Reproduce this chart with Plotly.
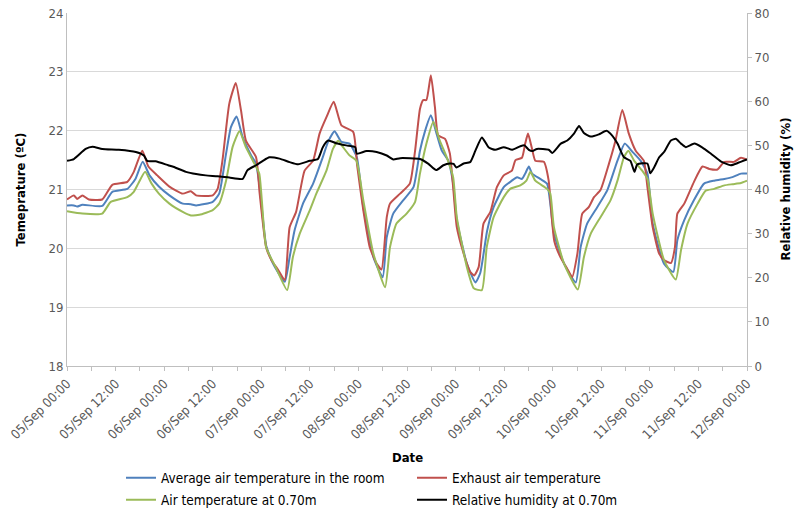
import datetime as dt
import plotly.graph_objects as go

# ---- data (hours since 05/Sep 00:00) ----
red_h = [0, 1.7, 2.5, 3.8, 5.4, 8.7, 11.2, 14.9, 16.5, 18.6, 20.1, 22.3,
         25.3, 28.6, 30.6, 31.9, 36, 37.2, 38.4, 40.1, 41.7, 43, 44.2, 46.7,
         47.6, 49.2, 50.5, 52.1, 53.8, 55, 56.6, 58.7, 60.8, 62.4, 64.1, 65.9, 67.8, 70.7,
         71.7, 73.2, 74.8, 76.5, 77.7, 79, 79.8, 82.3, 84.7, 86, 87.2, 88, 88.8, 89.9, 90.9,
         91.7, 93.4, 94.6, 95.4, 96.3, 98, 99.6, 100.6, 101.7, 102.9, 104.6, 106.2, 107.9,
         109.9, 110.8, 112.4, 113.2, 113.9, 114.9, 115.7, 117.8, 119, 119.8, 120.4, 121.9,
         123.6, 124.8, 126.1, 127.3, 128.9, 130.2, 131.8, 133.9, 135.5, 137.2, 138.8, 140.5,
         142.5, 143.4, 144.7, 146.3, 147.5, 149.2, 150.2, 150.8, 152.5, 154.9, 157, 158.7,
         160.7, 162.4, 164.8, 166.5, 168]
red_v = [20.83, 20.9, 20.84, 20.9, 20.83, 20.83, 21.08, 21.13, 21.3, 21.66, 21.39, 21.24,
         21.05, 20.93, 20.97, 20.9, 20.9, 21.01, 21.49, 22.46, 22.81, 22.34, 21.83, 21.55,
         20.93, 20.02, 19.8, 19.64, 19.46, 20.36, 20.62, 21.32, 21.49, 21.95, 22.23, 22.49, 22.09, 21.98,
         21.4, 20.65, 20.02, 19.74, 19.64, 20.53, 20.76, 20.93, 21.1, 21.66, 22.37, 22.52, 22.52, 22.94, 22.4,
         21.92, 21.86, 21.61, 21.04, 20.36, 19.91, 19.6, 19.54, 19.68, 20.42, 20.62, 21.04, 21.24,
         21.32, 21.5, 21.54, 21.78, 21.95, 21.69, 21.49, 21.47, 21.15, 20.5, 20.12, 19.85,
         19.65, 19.51, 19.91, 20.59, 20.7, 20.87, 20.99, 21.44, 21.83, 22.35, 21.95, 21.66,
         21.49, 21.04, 20.36, 19.91, 19.8, 19.75, 20.02, 20.59, 20.76, 21.13, 21.39, 21.35,
         21.34, 21.47, 21.47, 21.54, 21.51]

blue_h = [0, 1.7, 2.5, 3.8, 8.7, 11.2, 14.9, 16.9, 18.7, 20.4, 22.7, 25.3, 28.6, 30.6, 31.9,
          36, 37.6, 39.3, 40.5, 41.9, 43.4, 45.5, 46.7, 47.6, 49.2, 50.9, 53.8, 55, 56.2,
          58.3, 60.8, 63.2, 64.5, 66.1, 67.8, 69.8, 71.6, 73.2, 75.7, 78, 79, 80.6, 83.1,
          85.6, 87.2, 88.4, 89.9, 91.3, 92.6, 94.2, 95.4, 96.3, 98.8, 100.9, 102.1, 103.8,
          105.4, 107.9, 109.9, 111.2, 112.4, 113.2, 114.1, 114.9, 116.9, 118.6, 120.3, 122.8,
          125.7, 126.9, 128.5, 131, 133.5, 136, 137.8, 139.7, 141.7, 143.4, 144.7, 147.5,
          149.8, 150.8, 152.5, 154.9, 157.4, 159.9, 162.4, 164.4, 166.5, 168]
blue_v = [20.73, 20.73, 20.71, 20.74, 20.72, 20.96, 21.01, 21.18, 21.47, 21.24, 21.05, 20.9, 20.76, 20.75, 20.73,
          20.79, 20.93, 21.61, 22.06, 22.24, 21.89, 21.58, 21.44, 21.04, 20.05, 19.74, 19.43, 19.85, 20.3,
          20.76, 21.1, 21.55, 21.81, 21.99, 21.81, 21.78, 21.55, 20.7, 19.85, 19.51, 20.19, 20.59, 20.82,
          21.04, 21.66, 21.98, 22.26, 21.95, 21.66, 21.49, 21.1, 20.48, 19.74, 19.42, 19.58, 20.3,
          20.7, 21.04, 21.15, 21.21, 21.18, 21.27, 21.39, 21.27, 21.18, 21.1, 20.25, 19.74,
          19.42, 20.02, 20.42, 20.7, 20.99, 21.49, 21.78, 21.64, 21.49, 21.27, 20.42, 19.74,
          19.6, 20.14, 20.48, 20.82, 21.1, 21.15, 21.18, 21.21, 21.27, 21.27]

green_h = [0, 3.8, 8.7, 10.8, 14.9, 16.5, 17.6, 19.3, 20.9, 22.7, 25.3, 28.6, 30.6, 32.7, 36,
           37.6, 39.3, 40.9, 42.6, 44.2, 46.3, 47.5, 49.2, 51.7, 54.4, 55.8, 57.5, 60, 61.6,
           64.1, 65.7, 67, 68.2, 69.8, 71.5, 73.2, 75.7, 78.6, 79.8, 81.4, 83.9, 86, 87.2,
           88.8, 90.5, 92.1, 93.8, 95.4, 96.3, 98.8, 100.5, 102.5, 103.7, 105.4, 107.9, 109.5,
           112, 113.5, 114.5, 115.7, 118.6, 119.4, 120.3, 122.8, 126.2, 127.7, 129.4, 131.8,
           134.3, 136, 137.6, 138.7, 140.1, 142.1, 143.4, 144.7, 147.5, 150.4, 151.7, 153.3,
           155.8, 157.8, 159.9, 162.4, 164.4, 166.5, 168]
green_v = [20.63, 20.59, 20.59, 20.79, 20.87, 20.96, 21.1, 21.3, 21.1, 20.93, 20.76, 20.62, 20.56, 20.57, 20.65,
           20.76, 21.15, 21.72, 21.99, 21.72, 21.44, 21.27, 20.02, 19.66, 19.29, 19.85, 20.25, 20.65, 20.93,
           21.32, 21.69, 21.83, 21.72, 21.58, 21.49, 20.82, 19.91, 19.34, 20.02, 20.42, 20.59, 20.79, 21.27,
           21.78, 22.15, 21.83, 21.55, 21.21, 20.53, 19.68, 19.32, 19.29, 20.02, 20.53, 20.87, 21.01,
           21.07, 21.15, 21.3, 21.15, 21.01, 20.93, 20.36, 19.74, 19.3, 19.85, 20.25, 20.53,
           20.82, 21.15, 21.55, 21.66, 21.49, 21.32, 21.18, 20.59, 19.8, 19.47, 19.97, 20.42,
           20.76, 20.98, 21.01, 21.07, 21.09, 21.11, 21.15]

rh_h = [0, 1.7, 4.6, 6.3, 8.7, 12.8, 17, 19, 19.8, 21.9, 25, 26.1, 29.4, 31.9, 34.3, 37.2,
        40.1, 43.4, 44.6, 46.7, 48.4, 50, 52.5, 55, 57.1, 60, 62, 63.2, 64.5, 66.5, 69,
        71.2, 71.6, 74, 76.5, 79, 80.6, 82.3, 87.2, 89.3, 91.2, 93, 94.6, 95.5, 96.2, 98,
        99.6, 100.9, 102.5, 104.2, 105.8, 107.9, 110, 112, 113, 114.1, 114.9, 116.1, 119,
        119.9, 122, 123.6, 125.2, 126.5, 127.7, 129.4, 131.4, 133.3, 134.7, 136, 137.6,
        139.2, 140.2, 140.9, 143.4, 144.1, 145.1, 146.3, 147.5, 149.2, 150.4, 151.7, 152.9,
        155, 157, 159.1, 161.5, 164, 165.7, 168]
rh_v = [46.5, 46.9, 49.2, 49.7, 49.2, 49.0, 48.5, 47.7, 46.5, 46.4, 45.5, 45.2, 44.0, 43.5, 43.2, 43.0,
        42.7, 42.4, 44.4, 45.5, 46.5, 47.3, 47.0, 46.2, 45.7, 46.5, 46.9, 49.6, 51.1, 50.5, 50.0,
        49.6, 48.1, 48.7, 48.5, 47.7, 46.8, 47.1, 46.9, 45.8, 44.4, 45.5, 45.9, 45.8, 45.0, 45.9,
        46.2, 48.8, 51.8, 49.5, 49.0, 49.6, 49.0, 49.8, 50.0, 49.0, 48.7, 49.2, 49.0,
        48.3, 50.4, 51.1, 52.6, 54.4, 52.8, 52.0, 52.5, 53.3, 52.2, 50.4, 47.3,
        46.5, 44.0, 45.7, 45.9, 43.7, 45.1, 47.3, 48.5, 51.1, 51.5, 50.4, 49.6,
        50.4, 49.5, 48.1, 46.4, 45.5, 46.0, 46.8]

base = dt.datetime(2014, 9, 5)
def to_dt(hours):
    return [base + dt.timedelta(hours=h) for h in hours]

FONT = "DejaVu Sans Condensed, Open Sans, sans-serif"
TXT = "#595959"
W, H = 797, 513
L, R, T, B = 67, 50, 13, 147
PW = W - L - R

def line(color):
    return dict(color=color, width=2, shape="spline", smoothing=0.5)

fig = go.Figure()
fig.add_trace(go.Scatter(x=to_dt(blue_h), y=blue_v, mode="lines", name="Average air temperature in the room",
                         line=line("#4F81BD"), legend="legend"))
fig.add_trace(go.Scatter(x=to_dt(red_h), y=red_v, mode="lines", name="Exhaust air temperature",
                         line=line("#C0504D"), legend="legend"))
fig.add_trace(go.Scatter(x=to_dt(green_h), y=green_v, mode="lines", name="Air temperature at 0.70m",
                         line=line("#9BBB59"), legend="legend2"))
fig.add_trace(go.Scatter(x=to_dt(rh_h), y=rh_v, mode="lines", name="Relative humidity at 0.70m",
                         line=line("#000000"), yaxis="y2", legend="legend2"))

legend_common = dict(orientation="h", xref="paper", yref="container", xanchor="left", yanchor="middle",
                     entrywidth=246, entrywidthmode="pixels", bgcolor="rgba(0,0,0,0)",
                     font=dict(family=FONT, size=13.5, color="#000000"), itemwidth=30,
                     tracegroupgap=0)
lx = (121 - L) / PW
fig.update_layout(
    width=W, height=H,
    margin=dict(l=L, r=R, t=T, b=B, autoexpand=False),
    paper_bgcolor="white", plot_bgcolor="white",
    font=dict(family=FONT, size=13, color=TXT),
    xaxis=dict(
        range=[base, base + dt.timedelta(hours=168)],
        type="date", dtick=12 * 3600 * 1000, tick0=base, tickformat="%d/%b %H:%M",
        tickangle=-45, ticks="outside", ticklen=4, tickcolor="#bfbfbf",
        minor=dict(dtick=6 * 3600 * 1000, ticks="outside", ticklen=4, tickcolor="#bfbfbf", showgrid=False),
        showgrid=False, showline=True, linecolor="#bfbfbf", linewidth=1,
        tickfont=dict(family=FONT, size=13, color=TXT),
    ),
    yaxis=dict(
        range=[18, 24], dtick=1, showgrid=True, gridcolor="#d9d9d9", gridwidth=1,
        showline=True, linecolor="#bfbfbf", zeroline=False, ticks="",
        tickfont=dict(family=FONT, size=13, color=TXT),
    ),
    yaxis2=dict(
        range=[0, 80], dtick=10, overlaying="y", side="right", showgrid=False,
        showline=True, linecolor="#bfbfbf", zeroline=False, ticks="outside", ticklen=4, tickcolor="#bfbfbf",
        tickfont=dict(family=FONT, size=13, color=TXT),
    ),
    legend=dict(x=lx, y=1 - 478 / H, **legend_common),
    legend2=dict(x=lx, y=1 - 500 / H, **legend_common),
    showlegend=True,
)

title_font = dict(family=FONT, size=13, color="#000000")
fig.add_annotation(text="<b>Temeprature (ºC)</b>", xref="paper", yref="paper",
                   x=(20 - L) / PW, y=0.5, textangle=-90, showarrow=False,
                   xanchor="center", yanchor="middle", font=title_font)
fig.add_annotation(text="<b>Relative humidity (%)</b>", xref="paper", yref="paper",
                   x=(785 - L) / PW, y=0.5, textangle=-90, showarrow=False,
                   xanchor="center", yanchor="middle", font=title_font)
fig.add_annotation(text="<b>Date</b>", xref="paper", yref="paper",
                   x=0.5, y=-(457 - (H - B)) / (H - T - B), showarrow=False,
                   xanchor="center", yanchor="middle", font=title_font)

fig.write_html("out.html", config={"displayModeBar": False},
               post_script="document.body.style.margin='0';")
